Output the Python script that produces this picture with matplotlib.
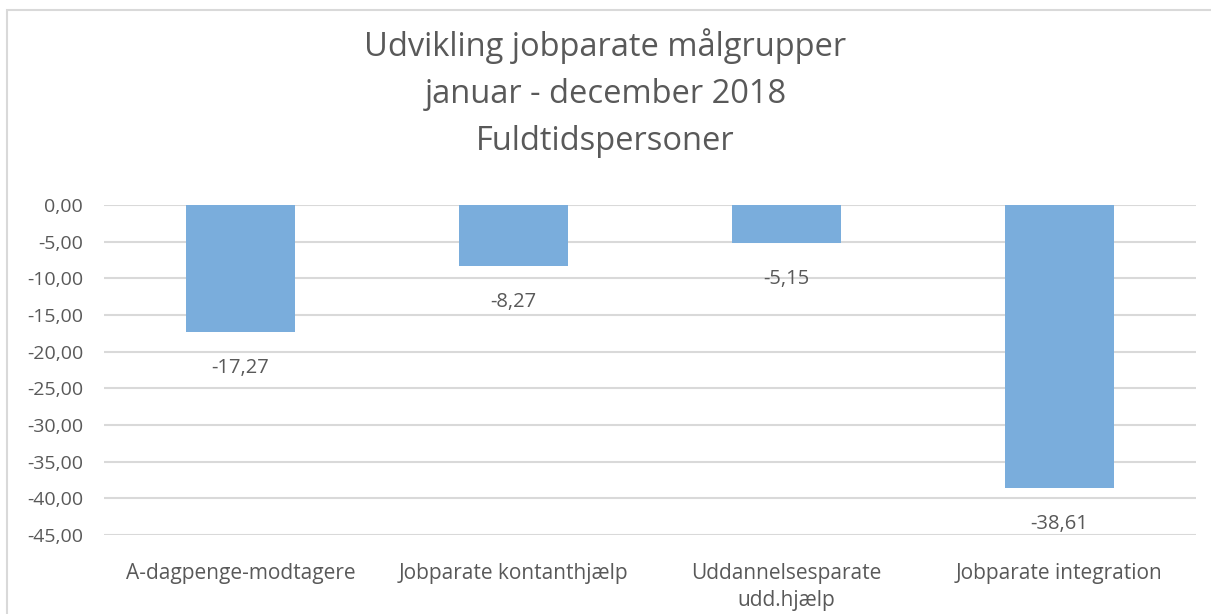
import matplotlib
matplotlib.use("Agg")
import matplotlib.pyplot as plt
from matplotlib.patches import Rectangle

categories = ["A-dagpenge-modtagere", "Jobparate kontanthjælp",
              "Uddannelsesparate\nudd.hjælp", "Jobparate integration"]
values = [-17.27, -8.27, -5.15, -38.61]
yticks = [0, -5, -10, -15, -20, -25, -30, -35, -40, -45]
title = "Udvikling jobparate målgrupper\njanuar - december 2018\nFuldtidspersoner"

plt.rcParams['font.family'] = ['Open Sans', 'DejaVu Sans']
txt = "#595959"
grid = "#d9d9d9"
barc = "#7AADDC"

fig = plt.figure(figsize=(12.11, 6.14), dpi=100)
fig.patches.append(Rectangle((7/1211, -0.1), 1.2, 1 - 10/614 + 0.1,
                             transform=fig.transFigure, fill=False,
                             edgecolor=grid, linewidth=1.5))
ax = fig.add_axes([104/1211, 1 - 535/614, (1196 - 104)/1211, 330/614])

x = list(range(len(categories)))
ax.bar(x, values, width=0.40, color=barc, zorder=3)
ax.set_xlim(-0.5, len(categories) - 0.5)
ax.set_ylim(-45, 0)
ax.set_yticks(yticks)
ax.set_yticklabels([f"{v:.2f}".replace(".", ",") for v in yticks], color=txt, fontsize=14)
ax.yaxis.grid(True, color=grid, linewidth=1.5, zorder=0)
ax.set_xticks(x)
ax.set_xticklabels(categories, color=txt, fontsize=15, linespacing=1.4)
ax.tick_params(axis='x', length=0, pad=20)
ax.tick_params(axis='y', length=0, pad=15)
for s in ax.spines.values():
    s.set_visible(False)

for xi, v in zip(x, values):
    ax.annotate(f"{v:.2f}".replace(".", ","), (xi, v), xytext=(0, -26),
                textcoords="offset points", ha="center", va="center",
                color=txt, fontsize=14.5, annotation_clip=False)

fig.text(0.5, 1 - 93/614, title, ha="center", va="center", color=txt,
         fontsize=23.5, linespacing=1.55)

fig.savefig("out.png", dpi=100)
